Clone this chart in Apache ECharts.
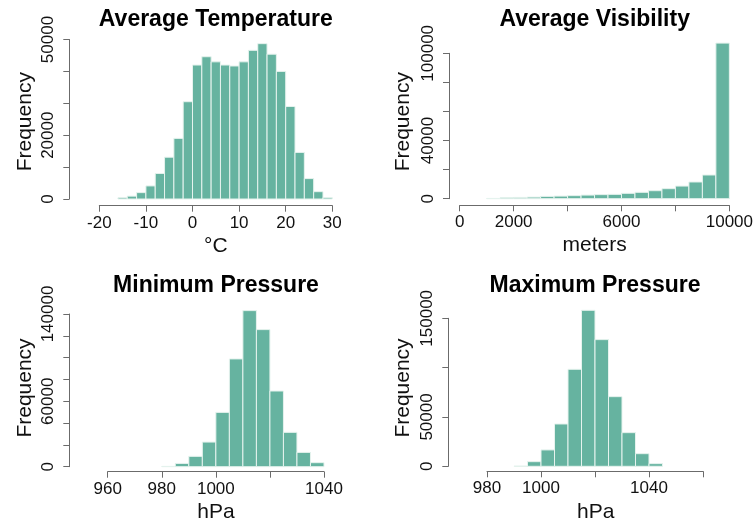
<!DOCTYPE html>
<html><head><meta charset="utf-8">
<script src="https://cdn.jsdelivr.net/npm/echarts@6/dist/echarts.min.js"></script>
<style>html,body{margin:0;padding:0;background:#fff}#c{width:756px;height:527px}</style>
</head><body><div id="c"></div>
<script>
// ---- data ----
const tempStart = -16, tempWidth = 2;
const tempCounts = [400, 900, 2000, 4100, 8000, 13100, 19000, 30500, 42000, 44600, 43000, 42000, 41700, 43000, 46600, 48700, 45400, 40000, 29000, 14600, 6400, 2300, 400];
const visStart = 1000, visWidth = 500;
const visCounts = [200, 700, 900, 1100, 1600, 1800, 2100, 2500, 2800, 3000, 3700, 4400, 5500, 6900, 8700, 11500, 16300, 107000];
const minPStart = 980, minPWidth = 5;
const minPCounts = [300, 3000, 9500, 22600, 49800, 98800, 143100, 125700, 69400, 31500, 13100, 3700];
const maxPStart = 990, maxPWidth = 5;
const maxPCounts = [300, 4700, 16600, 42900, 98300, 158100, 128400, 70600, 34100, 12800, 2700];

const titles = ['Average Temperature', 'Average Visibility', 'Minimum Pressure', 'Maximum Pressure'];
const xTitles = ['°C', 'meters', 'hPa', 'hPa'];
const yTitle = 'Frequency';

// axis ranges and shown tick labels
const xRanges = [[-20, 30, 10], [0, 10000, 2000], [960, 1040, 20], [980, 1060, 20]];
const xShown = [[-20, -10, 0, 10, 20, 30], [0, 2000, 6000, 10000], [960, 980, 1000, 1040], [980, 1000, 1040]];
const yRanges = [[0, 50000, 10000], [0, 100000, 20000], [0, 140000, 20000], [0, 150000, 50000]];
const yShown = [[0, 20000, 50000], [0, 40000, 100000], [0, 60000, 140000], [0, 50000, 150000]];

function toBins(start, width, counts) {
  return counts.map((c, i) => [start + i * width, start + (i + 1) * width, c]);
}
const binsList = [
  toBins(tempStart, tempWidth, tempCounts),
  toBins(visStart, visWidth, visCounts),
  toBins(minPStart, minPWidth, minPCounts),
  toBins(maxPStart, maxPWidth, maxPCounts)
];

// ---- layout ----
const grids = [
  {left: 99.3, top: 39.5, width: 233, height: 159.5},
  {left: 459.7, top: 53.3, width: 270.6, height: 145.4},
  {left: 107.7, top: 314, width: 216.3, height: 152.7},
  {left: 487, top: 318.3, width: 216, height: 148}
];
const yOffsets = [30, 10.7, 38.4, 38.7];
const xOffsets = [6.7, 6.6, 5, 5];
const titlePos = [[215.8, 20], [594.7, 20], [216, 286], [595, 286]];
const xTitlePos = [[215.8, 246.5], [594.7, 245], [216, 512], [595.7, 512]];
const yTitlePos = [[25, 121.7], [403, 121.7], [25, 388], [403, 388]];

const FONT = '"Liberation Sans", Arial, Helvetica, sans-serif';
const axisCol = '#6b6b6b';
const textCol = '#111';

const option = {
  animation: false,
  grid: grids.map(g => Object.assign({containLabel: false}, g)),
  xAxis: xRanges.map((r, i) => ({
    type: 'value', gridIndex: i, min: r[0], max: r[1], interval: r[2],
    offset: xOffsets[i],
    splitLine: {show: false},
    axisLine: {show: true, onZero: false, lineStyle: {color: axisCol, width: 1}},
    axisTick: {show: true, length: 6, inside: false, lineStyle: {color: axisCol}},
    axisLabel: {
      margin: 9, fontSize: 17, fontFamily: FONT, color: textCol, lineHeight: 17,
      showMinLabel: true, showMaxLabel: true,
      formatter: v => xShown[i].indexOf(v) >= 0 ? String(v) : ''
    }
  })),
  yAxis: yRanges.map((r, i) => ({
    type: 'value', gridIndex: i, min: r[0], max: r[1], interval: r[2],
    offset: yOffsets[i],
    splitLine: {show: false},
    axisLine: {show: true, onZero: false, lineStyle: {color: axisCol, width: 1}},
    axisTick: {show: true, length: 6, inside: false, lineStyle: {color: axisCol}},
    axisLabel: {
      rotate: 90, margin: 12, fontSize: 17, fontFamily: FONT, color: textCol, lineHeight: 17,
      showMinLabel: true, showMaxLabel: true,
      formatter: v => yShown[i].indexOf(v) >= 0 ? String(v) : ''
    }
  })),
  series: binsList.map((bins, i) => ({
    type: 'custom', xAxisIndex: i, yAxisIndex: i, clip: false,
    data: bins,
    renderItem: function (params, api) {
      const p0 = api.coord([api.value(0), 0]);
      const p1 = api.coord([api.value(1), api.value(2)]);
      return {
        type: 'rect',
        shape: {x: p0[0], y: p1[1], width: p1[0] - p0[0], height: p0[1] - p1[1]},
        style: {fill: '#66b3a0', stroke: '#e6f3ee', lineWidth: 1}
      };
    }
  })),
  graphic: [].concat(
    titles.map((t, i) => ({type: 'text', x: titlePos[i][0], y: titlePos[i][1],
      style: {text: t, font: 'bold 23px ' + FONT, fill: '#000', textAlign: 'center', textVerticalAlign: 'middle'}})),
    xTitles.map((t, i) => ({type: 'text', x: xTitlePos[i][0], y: xTitlePos[i][1],
      style: {text: t, font: '21px ' + FONT, fill: textCol, textAlign: 'center', textVerticalAlign: 'middle'}})),
    yTitlePos.map((p, i) => ({type: 'text', x: p[0], y: p[1], rotation: Math.PI / 2,
      style: {text: yTitle, font: '21px ' + FONT, fill: textCol, textAlign: 'center', textVerticalAlign: 'middle'}}))
  )
};
echarts.init(document.getElementById('c'), null, {renderer: 'canvas'}).setOption(option);
</script></body></html>
